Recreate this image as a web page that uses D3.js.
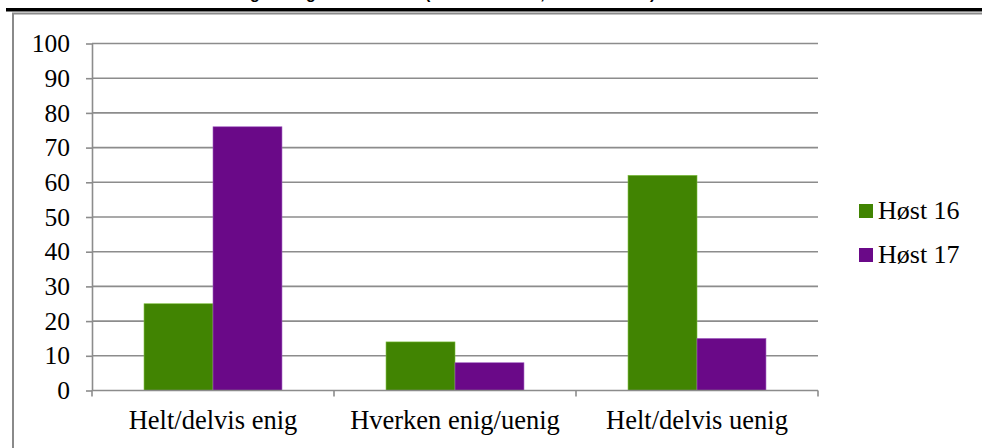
<!DOCTYPE html>
<html>
<head>
<meta charset="utf-8">
<script src="https://cdn.jsdelivr.net/npm/d3@7"></script>
<style>
  html, body { margin: 0; padding: 0; background: #fff; overflow: hidden; }
  svg { display: block; }
</style>
</head>
<body>
<svg id="chart" width="982" height="448"></svg>
<script>
// Survey answers, percent of respondents per semester
const categories = ["Helt/delvis enig", "Hverken enig/uenig", "Helt/delvis uenig"];
const seriesNames = ["Høst 16", "Høst 17"];
const host16 = [25, 14, 62];
const host17 = [76, 8, 15];
const yTicks = [0, 10, 20, 30, 40, 50, 60, 70, 80, 90, 100];
const colors = ["#418402", "#6a0988"];
const strokeColors = ["#7bbf3a", "#a05cc0"];
const titleText = "Enig / uenig totalt sett i år (Høst 16 N=120, Høst 17 N=98)";

const SERIF = '"Liberation Serif", "Times New Roman", serif';
const SANS = '"Liberation Sans", Arial, sans-serif';
const svg = d3.select("#chart").style("font-family", SERIF);

// Title line above the chart frame (only its lower edge falls inside the page)
svg.append("text")
  .attr("x", 225).attr("y", -1)
  .style("font-family", SANS).style("font-weight", "bold").style("font-size", "16px")
  .attr("fill", "#000")
  .text(titleText);

svg.append("rect")
  .attr("x", 6).attr("y", 8).attr("width", 980).attr("height", 3.5)
  .attr("fill", "#000");

// Chart frame
svg.append("rect")
  .attr("x", 13).attr("y", 13.5).attr("width", 990).attr("height", 460)
  .attr("fill", "none").attr("stroke", "#8a8a8a").attr("stroke-width", 2);

const plotLeft = 92, plotRight = 818, plotTop = 43.5, plotBottom = 390.5;

const y = d3.scaleLinear().domain([0, 100]).range([plotBottom, plotTop]);
const x0 = d3.scaleBand().domain(categories).range([plotLeft, plotRight]).paddingInner(0).paddingOuter(0);
const groupWidth = x0.bandwidth() * 0.57;
const x1 = d3.scaleBand().domain(seriesNames).range([0, groupWidth]).padding(0);

// Horizontal gridlines
svg.append("g").selectAll("line")
  .data(yTicks.filter(d => d > 0))
  .join("line")
  .attr("x1", plotLeft).attr("x2", plotRight)
  .attr("y1", d => y(d)).attr("y2", d => y(d))
  .attr("stroke", "#8c8c8c").attr("stroke-width", 1.6);

// Bars
const rows = categories.map((c, i) => ({ cat: c, vals: [host16[i], host17[i]] }));
const groups = svg.append("g").selectAll("g")
  .data(rows).join("g")
  .attr("transform", d => `translate(${x0(d.cat) + (x0.bandwidth() - groupWidth) / 2},0)`);
groups.selectAll("rect")
  .data(d => d.vals.map((v, k) => ({ name: seriesNames[k], v, k })))
  .join("rect")
  .attr("x", d => x1(d.name))
  .attr("y", d => y(d.v))
  .attr("width", x1.bandwidth())
  .attr("height", d => y(0) - y(d.v))
  .attr("fill", d => colors[d.k])
  .attr("stroke", d => strokeColors[d.k])
  .attr("stroke-width", 0.6);

// Y axis
const yAxis = d3.axisLeft(y).tickValues(yTicks).tickSize(6).tickSizeOuter(0).tickPadding(16);
const gy = svg.append("g").attr("transform", `translate(${plotLeft},0)`).call(yAxis)
  .attr("font-family", null).attr("font-size", null);
gy.select(".domain").attr("stroke", "#8c8c8c").attr("stroke-width", 1.6);
gy.selectAll(".tick line").attr("stroke", "#8c8c8c").attr("stroke-width", 1.6);
gy.selectAll(".tick text")
  .style("font-family", SERIF).style("font-size", "25.5px")
  .attr("fill", "#000");

// X axis with ticks at category boundaries
const gx = svg.append("g").attr("transform", `translate(0,${plotBottom})`);
gx.append("line").attr("x1", plotLeft).attr("x2", plotRight)
  .attr("stroke", "#8c8c8c").attr("stroke-width", 1.6);
const boundaries = categories.map(c => x0(c)).concat([plotRight]);
gx.selectAll("line.tk").data(boundaries).join("line").attr("class", "tk")
  .attr("x1", d => d).attr("x2", d => d).attr("y1", 0).attr("y2", 6)
  .attr("stroke", "#8c8c8c").attr("stroke-width", 1.6);
gx.selectAll("text").data(categories).join("text")
  .attr("x", d => x0(d) + x0.bandwidth() / 2)
  .attr("y", 38)
  .attr("text-anchor", "middle")
  .style("font-family", SERIF).style("font-size", "26.5px")
  .attr("fill", "#000")
  .text(d => d);

// Legend
const legend = svg.append("g").selectAll("g")
  .data(seriesNames).join("g")
  .attr("transform", (d, i) => `translate(859,${204 + i * 44})`);
legend.append("rect").attr("width", 14).attr("height", 14).attr("fill", (d, i) => colors[i]);
legend.append("text").attr("x", 19).attr("y", 15)
  .style("font-family", SERIF).style("font-size", "26px")
  .attr("fill", "#000")
  .text(d => d);
</script>
</body>
</html>
